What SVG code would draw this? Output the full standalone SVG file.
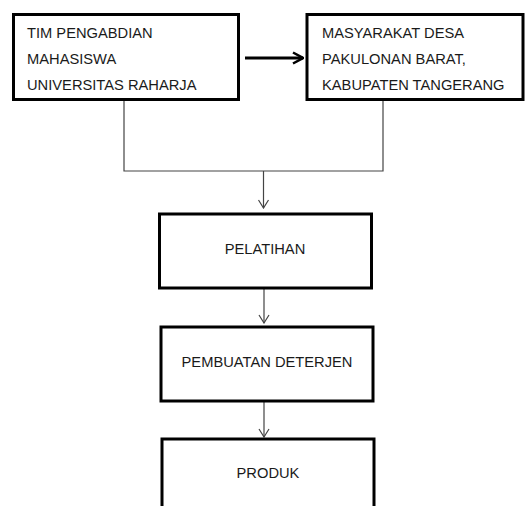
<svg xmlns="http://www.w3.org/2000/svg" width="525" height="506" viewBox="0 0 525 506">
<style>
.box{fill:#fff;stroke:#000;stroke-width:3}
.t{font-family:"Liberation Sans",Arial,sans-serif;font-size:14.7px;fill:#1a1a1a}
.c{fill:none;stroke:#444;stroke-width:1.2}
</style>
<defs>
<marker id="v" viewBox="0 0 12 12" refX="11" refY="6" markerWidth="12" markerHeight="12" markerUnits="userSpaceOnUse" orient="auto">
<path d="M3,1 L11,6 L3,11" fill="none" stroke="#444" stroke-width="1.2"/>
</marker>
<marker id="big" viewBox="0 0 14 14" refX="13" refY="7" markerWidth="14" markerHeight="14" markerUnits="userSpaceOnUse" orient="auto">
<path d="M3,1.5 L13,7 L3,12.5" fill="none" stroke="#000" stroke-width="2.5"/>
</marker>
</defs>
<g id="connectors">
<path class="c" d="M124,100 V171 H383 V100"/>
<line class="c" x1="263.5" y1="171" x2="263.5" y2="208" marker-end="url(#v)"/>
<line class="c" x1="264" y1="288" x2="264" y2="323" marker-end="url(#v)"/>
<line class="c" x1="264" y1="401" x2="264" y2="437" marker-end="url(#v)"/>
<line x1="245" y1="58" x2="303" y2="58" stroke="#000" stroke-width="3" marker-end="url(#big)"/>
</g>
<g id="n1">
<rect class="box" x="13.5" y="14.5" width="225" height="85"/>
<text class="t" x="27" y="38">TIM PENGABDIAN</text>
<text class="t" x="27" y="64">MAHASISWA</text>
<text class="t" x="27" y="90">UNIVERSITAS RAHARJA</text>
</g>
<g id="n2">
<rect class="box" x="307" y="14.5" width="216" height="85"/>
<text class="t" x="322" y="38">MASYARAKAT DESA</text>
<text class="t" x="322" y="64">PAKULONAN BARAT,</text>
<text class="t" x="322" y="90">KABUPATEN TANGERANG</text>
</g>
<g id="n3">
<rect class="box" x="159.5" y="214" width="212" height="74"/>
<text class="t" x="265" y="254" text-anchor="middle">PELATIHAN</text>
</g>
<g id="n4">
<rect class="box" x="161" y="327" width="212" height="74"/>
<text class="t" x="267" y="367" text-anchor="middle">PEMBUATAN DETERJEN</text>
</g>
<g id="n5">
<rect class="box" x="162" y="439" width="212" height="80"/>
<text class="t" x="268" y="478" text-anchor="middle">PRODUK</text>
</g>
</svg>
